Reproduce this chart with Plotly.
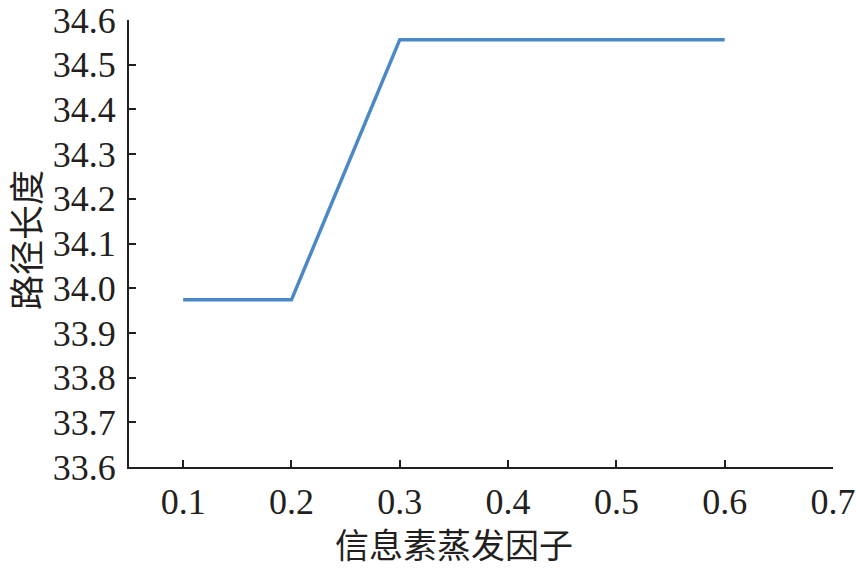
import plotly.graph_objects as go

x_vals = [0.1, 0.2, 0.3, 0.4, 0.5, 0.6]
path_len = [33.974, 33.974, 34.556, 34.556, 34.556, 34.556]
x_ticks = [0.1, 0.2, 0.3, 0.4, 0.5, 0.6, 0.7]
x_tick_text = ["0.1", "0.2", "0.3", "0.4", "0.5", "0.6", "0.7"]
y_ticks = [33.6, 33.7, 33.8, 33.9, 34.0, 34.1, 34.2, 34.3, 34.4, 34.5, 34.6]
y_tick_text = ["33.6", "33.7", "33.8", "33.9", "34.0", "34.1", "34.2", "34.3", "34.4", "34.5", "34.6"]
x_title = "信息素蒸发因子"
y_title = "路径长度"

font_fam = "Liberation Serif, Times New Roman, Noto Sans CJK SC, serif"

fig = go.Figure()
fig.add_trace(go.Scatter(x=x_vals, y=path_len, mode="lines",
                         line=dict(color="#4a88c7", width=3.5),
                         showlegend=False, hoverinfo="skip", cliponaxis=False))

fig.update_layout(
    width=856, height=568,
    margin=dict(l=129, r=23, t=20, b=101),
    paper_bgcolor="white", plot_bgcolor="white",
    font=dict(family=font_fam, size=36, color="#231f20"),
    xaxis=dict(range=[0.05, 0.7], tickvals=x_ticks, ticktext=x_tick_text,
               showgrid=False, zeroline=False, showline=True, linecolor="#231f20",
               linewidth=2, ticks="inside", ticklen=7, tickwidth=2, tickcolor="#231f20",
               tickfont=dict(size=36), ticklabelstandoff=2, automargin=False),
    yaxis=dict(range=[33.6, 34.6], tickvals=y_ticks, ticktext=y_tick_text,
               showgrid=False, zeroline=False, showline=True, linecolor="#231f20",
               linewidth=2, ticks="inside", ticklen=7, tickwidth=2, tickcolor="#231f20",
               tickfont=dict(size=36), ticklabelstandoff=4, automargin=False),
    annotations=[
        dict(text=x_title, xref="paper", yref="paper", x=(454-129)/704, y=-(543-467)/447,
             xanchor="center", yanchor="middle", showarrow=False, borderpad=0,
             font=dict(family="Noto Sans CJK SC", size=34, color="#231f20")),
        dict(text=y_title, xref="paper", yref="paper", x=-(129-24)/704, y=(467-240)/447,
             xanchor="center", yanchor="middle", showarrow=False, textangle=-90, borderpad=0,
             font=dict(family="Noto Sans CJK SC", size=35, color="#231f20")),
    ],
)

fig.write_html("out.html", config={"displayModeBar": False},
               post_script="document.body.style.margin='0';document.body.style.overflow='hidden';")
